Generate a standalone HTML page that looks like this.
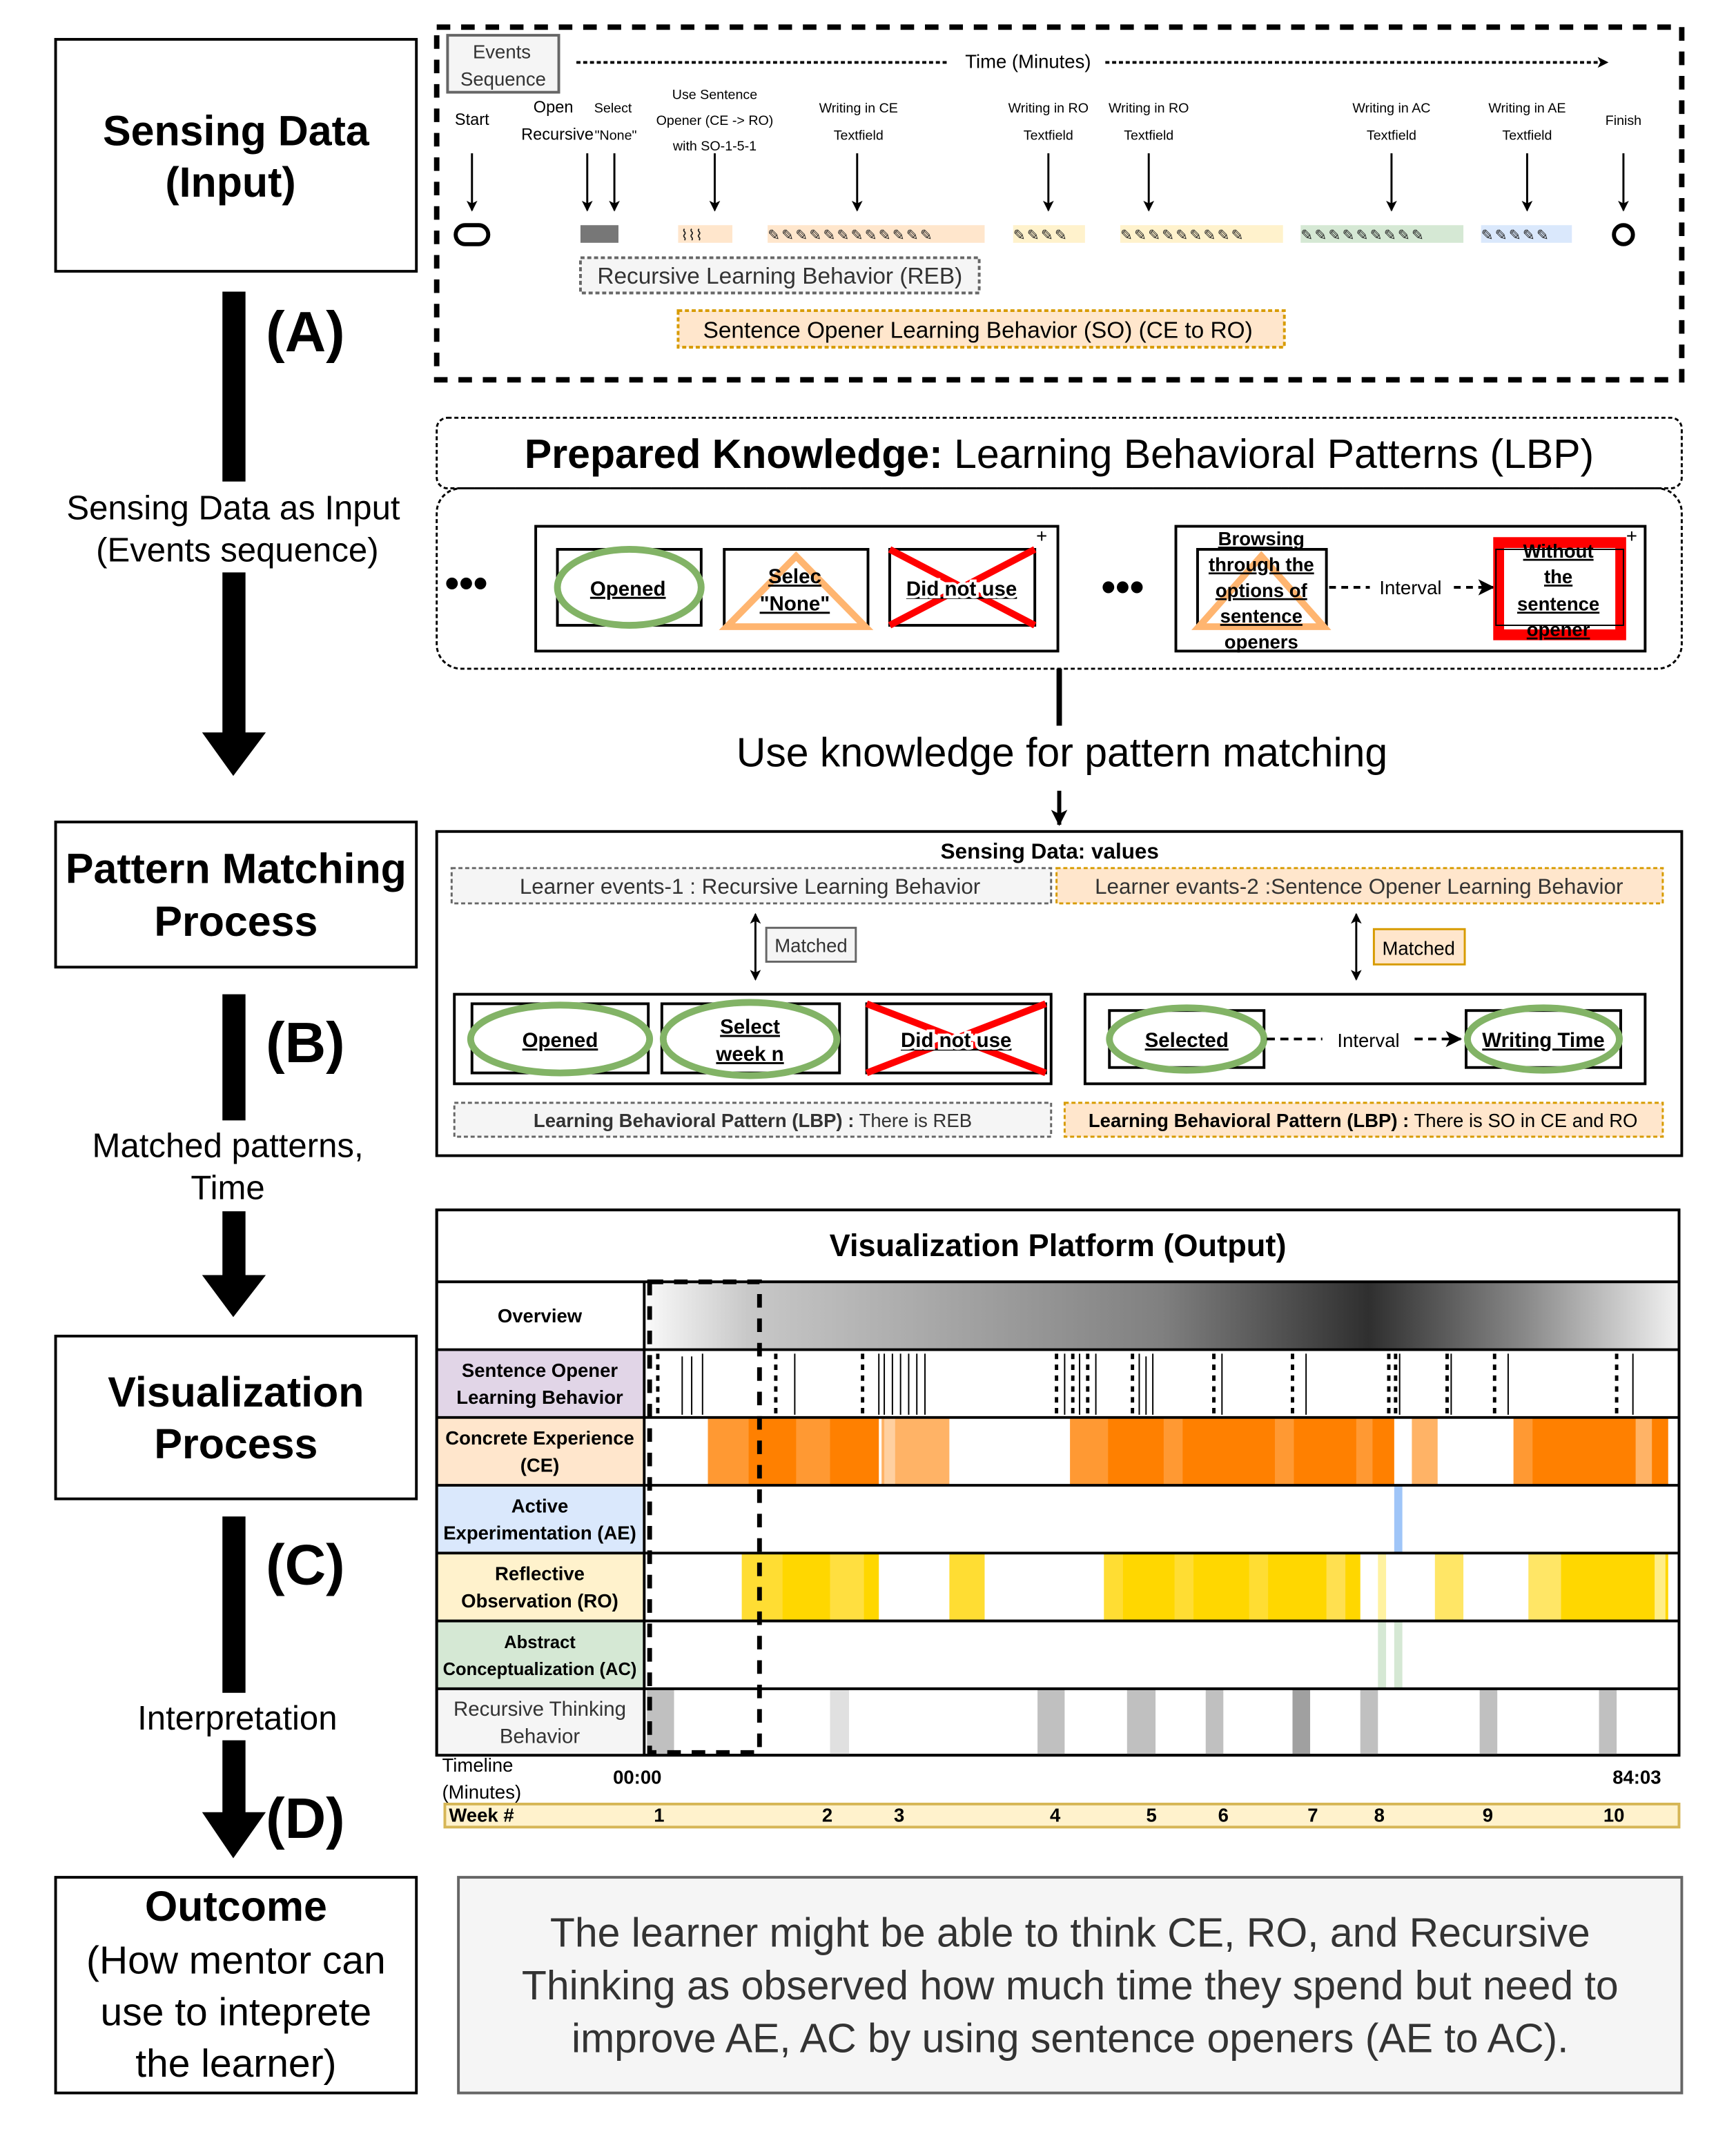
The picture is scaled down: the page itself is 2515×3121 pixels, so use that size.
<!DOCTYPE html>
<html><head><meta charset="utf-8"><style>
html,body{margin:0;padding:0;background:#fff;}
svg{display:block;font-family:"Liberation Sans",sans-serif;}
</style></head><body>
<svg width="2515" height="3121" viewBox="0 0 1280 1588" preserveAspectRatio="none" xmlns="http://www.w3.org/2000/svg">
<defs>
<marker id="ah" markerWidth="8" markerHeight="8" refX="7" refY="4" orient="auto" markerUnits="userSpaceOnUse"><path d="M0,0 L8,4 L0,8 L2,4 z" fill="#000"/></marker>
<marker id="ahs" markerWidth="12" markerHeight="12" refX="11" refY="6" orient="auto" markerUnits="userSpaceOnUse"><path d="M0,0 L12,6 L0,12 L3,6 z" fill="#000"/></marker>
<marker id="ahb" markerWidth="8" markerHeight="8" refX="1" refY="4" orient="auto" markerUnits="userSpaceOnUse"><path d="M8,0 L0,4 L8,8 L6,4 z" fill="#000"/></marker>
<linearGradient id="ov" x1="0" x2="1" y1="0" y2="0">
<stop offset="0" stop-color="#fafafa"/><stop offset="0.1" stop-color="#c8c8c8"/><stop offset="0.5" stop-color="#808080"/><stop offset="0.7" stop-color="#2f2f2f"/><stop offset="0.85" stop-color="#888"/><stop offset="1" stop-color="#f2f2f2"/>
</linearGradient>
</defs>
<g fill="none" stroke="#000" stroke-width="2">
<rect x="41" y="29" width="266" height="171"/>
<rect x="41" y="606" width="266" height="107"/>
<rect x="41" y="985" width="266" height="120"/>
<rect x="41" y="1384" width="266" height="159"/>
</g>
<g font-weight="bold" font-size="31" text-anchor="middle">
<text x="174" y="107">Sensing Data</text><text x="170" y="145">(Input)</text>
<text x="174" y="651">Pattern Matching</text><text x="174" y="690">Process</text>
<text x="174" y="1037">Visualization</text><text x="174" y="1075">Process</text>
<text x="174" y="1416">Outcome</text>
</g>
<g font-size="29" text-anchor="middle"><text x="174" y="1455">(How mentor can</text><text x="174" y="1493">use to inteprete</text><text x="174" y="1531">the learner)</text></g>
<!-- left arrows -->
<g fill="#000">
<rect x="164" y="215" width="17" height="140"/><rect x="164" y="422" width="17" height="120"/><path d="M149,540 L196,540 L172,572z"/>
<rect x="164" y="733" width="17" height="93"/><rect x="164" y="893" width="17" height="50"/><path d="M149,940 L196,940 L172,971z"/>
<rect x="164" y="1118" width="17" height="130"/><rect x="164" y="1283" width="17" height="55"/><path d="M149,1336 L196,1336 L172,1370z"/>
</g>
<g font-weight="bold" font-size="42"><text x="196" y="259">(A)</text><text x="196" y="783">(B)</text><text x="196" y="1168">(C)</text><text x="196" y="1355">(D)</text></g>
<g font-size="25" text-anchor="middle">
<text x="172" y="383">Sensing Data as Input</text><text x="175" y="414">(Events sequence)</text>
<text x="168" y="853">Matched patterns,</text><text x="168" y="884">Time</text>
<text x="175" y="1275">Interpretation</text>
</g>
<!-- top events -->
<rect x="322" y="20" width="918" height="260" fill="none" stroke="#000" stroke-width="4" stroke-dasharray="10,8"/>
<rect x="330" y="26" width="82" height="42" fill="#f5f5f5" stroke="#666" stroke-width="2"/>
<g font-size="14" fill="#333" text-anchor="middle"><text x="370" y="43">Events</text><text x="371" y="63">Sequence</text></g>
<line x1="425" y1="46" x2="700" y2="46" stroke="#000" stroke-width="2" stroke-dasharray="3,2"/>
<line x1="815" y1="46" x2="1185" y2="46" stroke="#000" stroke-width="2" stroke-dasharray="3,2" marker-end="url(#ah)"/>
<text x="758" y="50" font-size="14" text-anchor="middle">Time (Minutes)</text>
<g font-size="10" text-anchor="middle">
<text x="348" y="92" font-size="12">Start</text>
<text x="408" y="83" font-size="12">Open</text><text x="411" y="103" font-size="12">Recursive</text>
<text x="452" y="83">Select</text><text x="454" y="103">"None"</text>
<text x="527" y="73">Use Sentence</text><text x="527" y="92">Opener (CE -&gt; RO)</text><text x="527" y="111">with SO-1-5-1</text>
<text x="633" y="83">Writing in CE</text><text x="633" y="103">Textfield</text>
<text x="773" y="83">Writing in RO</text><text x="773" y="103">Textfield</text>
<text x="847" y="83">Writing in RO</text><text x="847" y="103">Textfield</text>
<text x="1026" y="83">Writing in AC</text><text x="1026" y="103">Textfield</text>
<text x="1126" y="83">Writing in AE</text><text x="1126" y="103">Textfield</text>
<text x="1197" y="92">Finish</text>
</g>
<g stroke="#000" stroke-width="1.5" marker-end="url(#ah)">
<line x1="348" y1="113" x2="348" y2="155"/><line x1="433" y1="113" x2="433" y2="155"/><line x1="453" y1="113" x2="453" y2="155"/><line x1="527" y1="113" x2="527" y2="155"/><line x1="632" y1="113" x2="632" y2="155"/><line x1="773" y1="113" x2="773" y2="155"/><line x1="847" y1="113" x2="847" y2="155"/><line x1="1026" y1="113" x2="1026" y2="155"/><line x1="1126" y1="113" x2="1126" y2="155"/><line x1="1197" y1="113" x2="1197" y2="155"/>
</g>
<rect x="336" y="166" width="24" height="14" rx="7" fill="none" stroke="#000" stroke-width="3"/>
<rect x="428" y="166" width="28" height="13" fill="#777"/>
<rect x="500" y="166" width="40" height="13" fill="#ffe6cc"/>
<rect x="566" y="166" width="160" height="13" fill="#ffe6cc"/>
<rect x="747" y="166" width="53" height="13" fill="#fff2cc"/>
<rect x="826" y="166" width="120" height="13" fill="#fff2cc"/>
<rect x="959" y="166" width="120" height="13" fill="#d5e8d4"/>
<rect x="1092" y="166" width="67" height="13" fill="#dae8fc"/>
<g font-size="11" fill="#222"><text x="566" y="177" letter-spacing="1">✎✎✎✎✎✎✎✎✎✎✎✎</text><text x="747" y="177" letter-spacing="1">✎✎✎✎</text><text x="826" y="177" letter-spacing="1">✎✎✎✎✎✎✎✎✎</text><text x="959" y="177" letter-spacing="1">✎✎✎✎✎✎✎✎✎</text><text x="1092" y="177" letter-spacing="1">✎✎✎✎✎</text><text x="502" y="177">⌇⌇⌇</text></g>
<circle cx="1197" cy="173" r="7" fill="none" stroke="#000" stroke-width="3"/>
<rect x="428" y="190" width="294" height="26" fill="#f5f5f5" stroke="#666" stroke-width="2" stroke-dasharray="3,2"/>
<text x="575" y="209" font-size="17" fill="#333" text-anchor="middle">Recursive Learning Behavior (REB)</text>
<rect x="500" y="229" width="447" height="27" fill="#ffe6cc" stroke="#d79b00" stroke-width="2" stroke-dasharray="3,2"/>
<text x="721" y="249" font-size="17" text-anchor="middle">Sentence Opener Learning Behavior (SO) (CE to RO)</text>
<!-- prepared knowledge -->
<rect x="322" y="308" width="918" height="52" rx="8" fill="none" stroke="#000" stroke-width="1.5" stroke-dasharray="3,2"/>
<text x="781" y="345" font-size="30" text-anchor="middle"><tspan font-weight="bold">Prepared Knowledge:</tspan> Learning Behavioral Patterns (LBP)</text>
<rect x="322" y="360" width="918" height="133" rx="18" fill="none" stroke="#000" stroke-width="1.5" stroke-dasharray="3,2"/>
<text x="328" y="440" font-size="30" font-weight="bold">•••</text>
<text x="812" y="443" font-size="30" font-weight="bold">•••</text>
<rect x="395" y="388" width="385" height="92" fill="none" stroke="#000" stroke-width="2"/>
<text x="764" y="400" font-size="14">+</text>
<rect x="411" y="405" width="106" height="56" fill="none" stroke="#000" stroke-width="2"/>
<ellipse cx="464" cy="433" rx="53" ry="28" fill="none" stroke="#82b366" stroke-width="5"/>
<rect x="534" y="405" width="106" height="56" fill="none" stroke="#000" stroke-width="2"/>
<path d="M587,410 L638,462 L536,462z" fill="none" stroke="#ffb570" stroke-width="5"/>
<rect x="656" y="405" width="107" height="56" fill="none" stroke="#000" stroke-width="2"/>
<g stroke="#f00" stroke-width="5"><line x1="656" y1="405" x2="763" y2="461"/><line x1="763" y1="405" x2="656" y2="461"/></g>
<g font-size="15" font-weight="bold" text-anchor="middle" text-decoration="underline">
<text x="463" y="439">Opened</text><text x="586" y="430">Selec</text><text x="586" y="450">"None"</text><text x="709" y="439" fill="#000" stroke="#fff" stroke-width="4" paint-order="stroke">Did not use</text>
</g>
<rect x="867" y="388" width="346" height="92" fill="none" stroke="#000" stroke-width="2"/>
<text x="1199" y="400" font-size="14">+</text>
<rect x="883" y="405" width="95" height="56" fill="none" stroke="#000" stroke-width="2"/>
<path d="M930,410 L976,462 L884,462z" fill="none" stroke="#ffb570" stroke-width="5"/>
<g font-size="14" font-weight="bold" text-anchor="middle" text-decoration="underline">
<text x="930" y="402">Browsing</text><text x="930" y="421">through the</text><text x="930" y="440">options of</text><text x="930" y="459">sentence</text><text x="930" y="478">openers</text>
</g>
<line x1="980" y1="433" x2="1010" y2="433" stroke="#000" stroke-width="2" stroke-dasharray="5,4"/>
<text x="1040" y="438" font-size="14" text-anchor="middle">Interval</text>
<line x1="1072" y1="433" x2="1101" y2="433" stroke="#000" stroke-width="2" stroke-dasharray="5,4" marker-end="url(#ahs)"/>
<rect x="1105" y="400" width="90" height="68" fill="none" stroke="#f00" stroke-width="8"/>
<rect x="1103" y="405" width="94" height="56" fill="none" stroke="#000" stroke-width="1"/>
<g font-size="14" font-weight="bold" text-anchor="middle" text-decoration="underline">
<text x="1149" y="411">Without</text><text x="1149" y="430">the</text><text x="1149" y="450">sentence</text><text x="1149" y="469">opener</text>
</g>
<line x1="781" y1="493" x2="781" y2="535" stroke="#000" stroke-width="4"/>
<text x="783" y="565" font-size="30" text-anchor="middle">Use knowledge for pattern matching</text>
<line x1="781" y1="583" x2="781" y2="608" stroke="#000" stroke-width="3" marker-end="url(#ahs)"/>
<!-- sensing data values -->
<rect x="322" y="613" width="918" height="239" fill="none" stroke="#000" stroke-width="2"/>
<text x="774" y="633" font-size="16" font-weight="bold" text-anchor="middle">Sensing Data: values</text>
<rect x="333" y="640" width="442" height="26" fill="#f5f5f5" stroke="#666" stroke-width="1.5" stroke-dasharray="3,2"/>
<text x="553" y="659" font-size="16" fill="#333" text-anchor="middle">Learner events-1 : Recursive Learning Behavior</text>
<rect x="779" y="640" width="447" height="26" fill="#ffe6cc" stroke="#d79b00" stroke-width="1.5" stroke-dasharray="3,2"/>
<text x="1002" y="659" font-size="16" fill="#333" text-anchor="middle">Learner evants-2 :Sentence Opener Learning Behavior</text>
<line x1="557" y1="674" x2="557" y2="722" stroke="#000" stroke-width="1.5" marker-end="url(#ah)" marker-start="url(#ahb)"/>
<rect x="565" y="684" width="66" height="25" fill="#f5f5f5" stroke="#666" stroke-width="1.5"/>
<text x="598" y="702" font-size="14" fill="#333" text-anchor="middle">Matched</text>
<line x1="1000" y1="674" x2="1000" y2="722" stroke="#000" stroke-width="1.5" marker-end="url(#ah)" marker-start="url(#ahb)"/>
<rect x="1013" y="685" width="67" height="26" fill="#ffe6cc" stroke="#d79b00" stroke-width="1.5"/>
<text x="1046" y="704" font-size="14" text-anchor="middle">Matched</text>
<rect x="335" y="733" width="440" height="66" fill="none" stroke="#000" stroke-width="2"/>
<rect x="348" y="740" width="130" height="51" fill="none" stroke="#000" stroke-width="2"/>
<ellipse cx="413" cy="766" rx="66" ry="25" fill="none" stroke="#82b366" stroke-width="5"/>
<rect x="488" y="740" width="131" height="51" fill="none" stroke="#000" stroke-width="2"/>
<ellipse cx="553" cy="766" rx="64" ry="27" fill="none" stroke="#82b366" stroke-width="5"/>
<rect x="639" y="740" width="132" height="51" fill="none" stroke="#000" stroke-width="2"/>
<g stroke="#f00" stroke-width="5"><line x1="639" y1="740" x2="771" y2="791"/><line x1="771" y1="740" x2="639" y2="791"/></g>
<g font-size="15" font-weight="bold" text-anchor="middle" text-decoration="underline">
<text x="413" y="772">Opened</text><text x="553" y="762">Select</text><text x="553" y="782">week n</text><text x="705" y="772" stroke="#fff" stroke-width="4" paint-order="stroke">Did not use</text>
</g>
<rect x="800" y="733" width="413" height="66" fill="none" stroke="#000" stroke-width="2"/>
<rect x="818" y="745" width="114" height="42" fill="none" stroke="#000" stroke-width="2"/>
<ellipse cx="875" cy="766" rx="57" ry="23" fill="none" stroke="#82b366" stroke-width="5"/>
<rect x="1081" y="745" width="114" height="42" fill="none" stroke="#000" stroke-width="2"/>
<ellipse cx="1138" cy="766" rx="56" ry="23" fill="none" stroke="#82b366" stroke-width="5"/>
<g font-size="15" font-weight="bold" text-anchor="middle" text-decoration="underline"><text x="875" y="772">Selected</text><text x="1138" y="772">Writing Time</text></g>
<line x1="934" y1="766" x2="975" y2="766" stroke="#000" stroke-width="2" stroke-dasharray="6,4"/>
<text x="1009" y="772" font-size="14" text-anchor="middle">Interval</text>
<line x1="1043" y1="766" x2="1077" y2="766" stroke="#000" stroke-width="2" stroke-dasharray="6,4" marker-end="url(#ahs)"/>
<rect x="335" y="813" width="440" height="25" fill="#f5f5f5" stroke="#666" stroke-width="1.5" stroke-dasharray="3,2"/>
<text x="555" y="831" font-size="14" fill="#333" text-anchor="middle"><tspan font-weight="bold">Learning Behavioral Pattern (LBP) :</tspan> There is REB</text>
<rect x="785" y="813" width="441" height="25" fill="#ffe6cc" stroke="#d79b00" stroke-width="1.5" stroke-dasharray="3,2"/>
<text x="1005" y="831" font-size="14" text-anchor="middle"><tspan font-weight="bold">Learning Behavioral Pattern (LBP) :</tspan> There is SO in CE and RO</text>
<!-- visualization platform -->
<rect x="322" y="892" width="916" height="402" fill="#fff" stroke="#000" stroke-width="2"/>
<text x="780" y="926" font-size="23" font-weight="bold" text-anchor="middle">Visualization Platform (Output)</text>
<rect x="475" y="945" width="763" height="50" fill="url(#ov)"/>
<rect x="323" y="995" width="152" height="50" fill="#e1d5e7"/>
<rect x="323" y="1045" width="152" height="50" fill="#ffe6cc"/>
<rect x="323" y="1095" width="152" height="50" fill="#dae8fc"/>
<rect x="323" y="1145" width="152" height="50" fill="#fff2cc"/>
<rect x="323" y="1195" width="152" height="50" fill="#d5e8d4"/>
<rect x="323" y="1245" width="152" height="49" fill="#f5f5f5"/>
<!-- CE bars -->
<rect x="522" y="1045" width="126" height="50" fill="#ff8000"/>
<rect x="522" y="1045" width="30" height="50" fill="#ff9933"/><rect x="587" y="1045" width="25" height="50" fill="#ff9933"/>
<rect x="650" y="1045" width="50" height="50" fill="#ffb366"/><rect x="652" y="1045" width="8" height="50" fill="#ffd0a0"/>
<rect x="789" y="1045" width="239" height="50" fill="#ff8000"/>
<rect x="789" y="1045" width="28" height="50" fill="#ff9933"/><rect x="858" y="1045" width="14" height="50" fill="#ff9933"/><rect x="940" y="1045" width="14" height="50" fill="#ff9933"/><rect x="1000" y="1045" width="12" height="50" fill="#ff9933"/>
<rect x="1041" y="1045" width="19" height="50" fill="#ffb366"/>
<rect x="1116" y="1045" width="114" height="50" fill="#ff8000"/><rect x="1116" y="1045" width="14" height="50" fill="#ff9933"/><rect x="1206" y="1045" width="12" height="50" fill="#ffb366"/>
<rect x="1028" y="1095" width="6" height="50" fill="#9fc5f8"/>
<!-- RO bars -->
<rect x="547" y="1145" width="101" height="50" fill="#ffd700"/><rect x="547" y="1145" width="30" height="50" fill="#ffdd33"/><rect x="612" y="1145" width="25" height="50" fill="#ffdf40"/>
<rect x="700" y="1145" width="26" height="50" fill="#ffdd33"/>
<rect x="814" y="1145" width="189" height="50" fill="#ffd700"/><rect x="814" y="1145" width="14" height="50" fill="#ffdd33"/><rect x="866" y="1145" width="14" height="50" fill="#ffdd33"/><rect x="921" y="1145" width="14" height="50" fill="#ffdd33"/><rect x="978" y="1145" width="14" height="50" fill="#ffe050"/>
<rect x="1016" y="1145" width="6" height="50" fill="#fff2a0"/>
<rect x="1058" y="1145" width="21" height="50" fill="#ffe666"/>
<rect x="1127" y="1145" width="103" height="50" fill="#ffd700"/><rect x="1127" y="1145" width="24" height="50" fill="#ffe666"/><rect x="1220" y="1145" width="8" height="50" fill="#ffee88"/>
<rect x="1016" y="1195" width="6" height="50" fill="#d5e8d4"/><rect x="1028" y="1195" width="6" height="50" fill="#d5e8d4"/>
<!-- RTB -->
<g fill="#c0c0c0">
<rect x="477" y="1245" width="20" height="49"/><rect x="612" y="1245" width="14" height="49" fill="#e0e0e0"/><rect x="765" y="1245" width="20" height="49"/><rect x="831" y="1245" width="21" height="49"/><rect x="889" y="1245" width="13" height="49"/><rect x="953" y="1245" width="13" height="49" fill="#a0a0a0"/><rect x="1003" y="1245" width="13" height="49"/><rect x="1091" y="1245" width="13" height="49"/><rect x="1179" y="1245" width="13" height="49"/>
</g>
<!-- SO lines -->
<g stroke="#000" stroke-width="1">
<line x1="503" y1="1000" x2="503" y2="1043"/><line x1="510" y1="1000" x2="510" y2="1043"/><line x1="518" y1="998" x2="518" y2="1043"/>
<line x1="586" y1="998" x2="586" y2="1043"/><line x1="648" y1="998" x2="648" y2="1043"/><line x1="652" y1="998" x2="652" y2="1043"/><line x1="658" y1="998" x2="658" y2="1043"/><line x1="664" y1="998" x2="664" y2="1043"/><line x1="670" y1="998" x2="670" y2="1043"/><line x1="676" y1="998" x2="676" y2="1043"/><line x1="682" y1="998" x2="682" y2="1043"/>
<line x1="785" y1="998" x2="785" y2="1043"/><line x1="796" y1="998" x2="796" y2="1043"/><line x1="808" y1="998" x2="808" y2="1043"/><line x1="840" y1="998" x2="840" y2="1043"/><line x1="845" y1="1000" x2="845" y2="1043"/><line x1="850" y1="998" x2="850" y2="1043"/>
<line x1="901" y1="998" x2="901" y2="1043"/><line x1="963" y1="998" x2="963" y2="1043"/><line x1="1032" y1="998" x2="1032" y2="1043"/><line x1="1070" y1="998" x2="1070" y2="1043"/><line x1="1112" y1="998" x2="1112" y2="1043"/><line x1="1204" y1="998" x2="1204" y2="1043"/>
</g>
<g stroke="#000" stroke-width="2.5" stroke-dasharray="4,4">
<line x1="485" y1="998" x2="485" y2="1043"/><line x1="572" y1="998" x2="572" y2="1043"/><line x1="636" y1="998" x2="636" y2="1043"/><line x1="779" y1="998" x2="779" y2="1043"/><line x1="791" y1="998" x2="791" y2="1043"/><line x1="802" y1="998" x2="802" y2="1043"/><line x1="835" y1="998" x2="835" y2="1043"/><line x1="895" y1="998" x2="895" y2="1043"/><line x1="953" y1="998" x2="953" y2="1043"/><line x1="1024" y1="998" x2="1024" y2="1043"/><line x1="1029" y1="998" x2="1029" y2="1043"/><line x1="1067" y1="998" x2="1067" y2="1043"/><line x1="1102" y1="998" x2="1102" y2="1043"/><line x1="1192" y1="998" x2="1192" y2="1043"/>
</g>
<!-- grid -->
<g stroke="#000" stroke-width="2">
<line x1="322" y1="945" x2="1238" y2="945"/><line x1="322" y1="995" x2="1238" y2="995"/><line x1="322" y1="1045" x2="1238" y2="1045"/><line x1="322" y1="1095" x2="1238" y2="1095"/><line x1="322" y1="1145" x2="1238" y2="1145"/><line x1="322" y1="1195" x2="1238" y2="1195"/><line x1="322" y1="1245" x2="1238" y2="1245"/>
<line x1="475" y1="945" x2="475" y2="1294"/>
</g>
<rect x="322" y="892" width="916" height="402" fill="none" stroke="#000" stroke-width="2"/>
<rect x="479" y="945" width="81" height="347" fill="none" stroke="#000" stroke-width="3.5" stroke-dasharray="10,8"/>
<g font-size="14" font-weight="bold" text-anchor="middle">
<text x="398" y="975">Overview</text>
<text x="398" y="1015">Sentence Opener</text><text x="398" y="1035">Learning Behavior</text>
<text x="398" y="1065">Concrete Experience</text><text x="398" y="1085">(CE)</text>
<text x="398" y="1115">Active</text><text x="398" y="1135">Experimentation (AE)</text>
<text x="398" y="1165">Reflective</text><text x="398" y="1185">Observation (RO)</text>
<text x="398" y="1215" font-size="13">Abstract</text><text x="398" y="1235" font-size="13">Conceptualization (AC)</text>
<text x="398" y="1265" fill="#333" font-weight="normal" font-size="15">Recursive Thinking</text><text x="398" y="1285" fill="#333" font-weight="normal" font-size="15">Behavior</text>
</g>
<text x="326" y="1306" font-size="14">Timeline</text><text x="326" y="1326" font-size="14">(Minutes)</text>
<text x="452" y="1315" font-size="14" font-weight="bold">00:00</text><text x="1189" y="1315" font-size="14" font-weight="bold">84:03</text>
<rect x="328" y="1330" width="910" height="17" fill="#fff2cc" stroke="#d6b656" stroke-width="2"/>
<g font-size="14" font-weight="bold"><text x="331" y="1343">Week #</text>
<g text-anchor="middle"><text x="486" y="1343">1</text><text x="610" y="1343">2</text><text x="663" y="1343">3</text><text x="778" y="1343">4</text><text x="849" y="1343">5</text><text x="902" y="1343">6</text><text x="968" y="1343">7</text><text x="1017" y="1343">8</text><text x="1097" y="1343">9</text><text x="1190" y="1343">10</text></g></g>
<!-- outcome text -->
<rect x="338" y="1384" width="902" height="159" fill="#f5f5f5" stroke="#666" stroke-width="2"/>
<g font-size="30" fill="#333" text-anchor="middle">
<text x="789" y="1435">The learner might be able to think CE, RO, and Recursive</text>
<text x="789" y="1474">Thinking as observed how much time they spend but need to</text>
<text x="789" y="1513">improve AE, AC by using sentence openers (AE to AC).</text>
</g>
</svg>
</body></html>
